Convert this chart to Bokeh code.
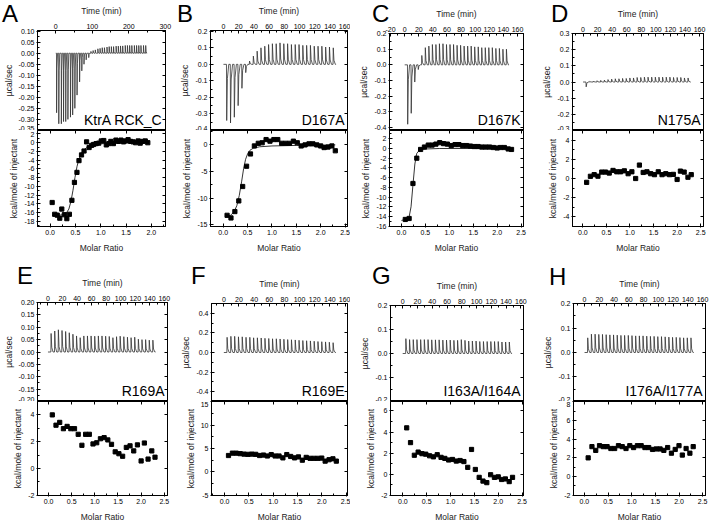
from bokeh.plotting import figure
from bokeh.layouts import row, column
from bokeh.models import (LinearAxis, Range1d, SingleIntervalTicker, FixedTicker,
                          NumeralTickFormatter, Label, Div)
from bokeh.embed import file_html
from bokeh.resources import INLINE

FONT = "Liberation Sans"

# ------------------------------------------------------------------ data
letters = ["A", "B", "C", "D", "E", "F", "G", "H"]
names = ["KtrA RCK_C", "D167A", "D167K", "N175A", "R169A", "R169E", "I163A/I164A", "I176A/I177A"]

# panel A (40 injections)
A_time = [2, 8, 15, 21, 27, 33, 40, 46, 52, 58, 65, 71, 77, 83, 90, 96, 102, 108, 115, 121,
          127, 133, 140, 146, 152, 158, 165, 171, 177, 183, 190, 196, 202, 208, 215, 221, 227, 233, 240, 246]
A_peak = [-0.27, -0.32, -0.32, -0.31, -0.31, -0.30, -0.29, -0.28, -0.25, -0.19,
          -0.13, -0.08, -0.05, -0.03, -0.02, 0.008, 0.012, 0.015, 0.02, 0.022,
          0.025, 0.025, 0.028, 0.03, 0.03, 0.03, 0.032, 0.032, 0.033, 0.033,
          0.035, 0.035, 0.035, 0.035, 0.035, 0.035, 0.035, 0.035, 0.035, 0.035]
A_ratio = [0.04, 0.09, 0.14, 0.19, 0.23, 0.28, 0.33, 0.38, 0.43, 0.48,
           0.53, 0.57, 0.62, 0.67, 0.72, 0.77, 0.82, 0.86, 0.91, 0.96,
           1.01, 1.06, 1.11, 1.16, 1.20, 1.25, 1.30, 1.35, 1.40, 1.45,
           1.49, 1.54, 1.59, 1.64, 1.69, 1.74, 1.78, 1.83, 1.88, 1.93]
A_heat = [-13.7, -16.4, -16.6, -17.3, -15.2, -16.5, -17.4, -16.4, -13.2, -9.1,
          -6.8, -4.1, -2.8, -1.9, 0.2, -1.1, -0.6, -0.4, -0.2, -0.1,
          0.4, 0.5, -0.5, -0.2, 0.3, -0.2, 0.6, 0.3, 0.6, 0.2,
          0.4, 0.7, 0.3, 0.2, 0.0, 0.4, -0.1, 0.3, 0.4, 0.0]
A_fit_r = [0.04, 0.15, 0.25, 0.32, 0.37, 0.41, 0.45, 0.49, 0.53, 0.57, 0.62, 0.68, 0.75, 0.85, 1.0, 1.2, 1.5, 1.93]
A_fit_h = [-16.7, -16.65, -16.5, -16.1, -15.2, -13.5, -11.0, -8.0, -5.5, -3.7, -2.4, -1.5, -0.9, -0.5, -0.25, -0.1, 0.0, 0.0]

# panels B-H (29 injections each)
t29 = [4, 9, 14, 19, 24, 29, 34, 39, 44, 49, 54, 59, 64, 69, 74, 79, 84, 89, 94, 99,
       104, 109, 114, 119, 124, 129, 134, 139, 144]
r29 = [0.08, 0.16, 0.24, 0.32, 0.40, 0.48, 0.56, 0.64, 0.72, 0.80, 0.88, 0.96, 1.04, 1.12, 1.20,
       1.28, 1.36, 1.44, 1.52, 1.60, 1.68, 1.76, 1.84, 1.92, 2.00, 2.07, 2.15, 2.23, 2.30]

B_peak = [-0.34, -0.355, -0.32, -0.25, -0.145, -0.05, 0.02, 0.05, 0.08, 0.10, 0.11, 0.12, 0.125, 0.125, 0.13,
          0.125, 0.125, 0.12, 0.12, 0.12, 0.115, 0.115, 0.115, 0.11, 0.11, 0.11, 0.105, 0.105, 0.10]
B_heat = [-13.2, -13.7, -12.5, -10.5, -7.8, -4.0, -1.7, -0.2, 0.3, 0.4, 1.0, 0.7, 1.0, 1.0, 0.3,
          0.3, 0.3, 0.7, 0.4, -0.2, 0.0, 0.2, 0.2, 0.0, -0.2, -0.5, -0.4, -0.2, -1.1]
B_fit_r = [0.05, 0.15, 0.22, 0.28, 0.33, 0.38, 0.42, 0.46, 0.50, 0.55, 0.62, 0.75, 1.0, 1.5, 2.0, 2.3]
B_fit_h = [-13.4, -13.2, -12.6, -11.4, -9.5, -6.8, -4.4, -2.7, -1.7, -1.0, -0.6, -0.35, -0.2, -0.1, -0.05, 0.0]

C_peak = [-0.38, -0.31, -0.11, -0.03, 0.06, 0.11, 0.12, 0.13, 0.13, 0.135, 0.135, 0.13, 0.13, 0.13, 0.125,
          0.125, 0.12, 0.12, 0.12, 0.115, 0.115, 0.11, 0.11, 0.11, 0.11, 0.105, 0.105, 0.10, 0.10]
C_heat = [-14.6, -14.4, -7.2, -2.0, -0.2, 0.3, 0.7, 0.7, 0.9, 1.2, 1.0, 0.9, 0.6, 0.8, 0.8,
          0.6, 0.6, 0.5, 0.4, 0.4, 0.3, 0.3, 0.3, 0.2, 0.1, 0.2, 0.2, -0.1, -0.2]
C_fit_r = [0.0, 0.08, 0.16, 0.20, 0.24, 0.28, 0.32, 0.38, 0.5, 0.8, 1.5, 2.3]
C_fit_h = [-14.8, -14.6, -14.1, -12.0, -7.5, -3.2, -1.0, -0.3, -0.1, 0.0, 0.0, 0.0]

D_peak = [-0.03, 0.004, 0.006, 0.008, 0.01, 0.012, 0.015, 0.018, 0.02, 0.02, 0.022, 0.022, 0.025, 0.025, 0.028,
          0.028, 0.03, 0.03, 0.03, 0.03, 0.03, 0.03, 0.03, 0.03, 0.028, 0.028, 0.028, 0.025, 0.025]
D_heat = [-0.4, 0.23, 0.4, 0.24, 0.67, 0.67, 0.57, 0.84, 0.7, 0.7, 0.8, 0.5, 0.7, 0.0, 1.4,
          0.63, 0.7, 0.5, 0.4, 0.7, 0.4, 0.5, 0.4, 0.43, -0.1, 0.77, 0.67, 0.13, 0.4]

E_peak = [0.075, 0.085, 0.09, 0.087, 0.083, 0.078, 0.072, 0.065, 0.058, 0.065, 0.065, 0.065, 0.064, 0.065, 0.065,
          0.064, 0.063, 0.058, 0.062, 0.064, 0.062, 0.06, 0.058, 0.06, 0.052, 0.05, 0.05, 0.048, 0.048]
E_heat = [4.0, 3.23, 3.44, 2.97, 3.14, 2.97, 2.97, 2.55, 1.73, 2.55, 2.55, 1.83, 1.92, 2.22, 2.3,
          2.13, 1.8, 1.24, 1.1, 0.91, 1.57, 1.69, 1.31, 1.76, 0.56, 1.9, 0.7, 1.31, 0.84]

F_peak = [0.155, 0.165, 0.165, 0.16, 0.16, 0.155, 0.155, 0.15, 0.15, 0.148, 0.145, 0.143, 0.14, 0.14, 0.138,
          0.135, 0.132, 0.13, 0.128, 0.125, 0.122, 0.12, 0.118, 0.115, 0.112, 0.11, 0.108, 0.105, 0.10]
F_heat = [3.5, 4.0, 4.0, 3.9, 3.8, 3.75, 3.8, 3.75, 3.5, 3.6, 3.4, 3.7, 3.4, 3.4, 3.0,
          3.7, 3.3, 3.0, 3.2, 2.5, 3.1, 2.9, 2.9, 2.9, 2.95, 2.3, 2.6, 2.8, 2.3]

G_peak = [0.062, 0.058, 0.058, 0.058, 0.058, 0.058, 0.058, 0.057, 0.057, 0.057, 0.056, 0.056, 0.056, 0.055, 0.055,
          0.058, 0.055, 0.052, 0.052, 0.052, 0.05, 0.05, 0.05, 0.05, 0.05, 0.05, 0.048, 0.048, 0.048]
G_heat = [4.4, 3.0, 1.8, 2.1, 1.95, 1.9, 1.75, 1.65, 1.85, 1.6, 1.5, 1.35, 1.4, 1.25, 1.3,
          1.2, 0.65, 2.35, 0.45, -0.3, -0.65, -0.8, -0.05, -0.3, -0.25, -0.5, -0.45, -0.7, -0.3]

H_peak = [0.06, 0.075, 0.075, 0.074, 0.074, 0.073, 0.072, 0.072, 0.071, 0.07, 0.07, 0.07, 0.069, 0.068, 0.068,
          0.068, 0.067, 0.066, 0.066, 0.065, 0.065, 0.064, 0.063, 0.062, 0.062, 0.061, 0.06, 0.06, 0.06]
H_heat = [2.0, 3.2, 2.8, 3.3, 3.2, 3.2, 3.0, 3.0, 3.3, 3.2, 3.0, 3.3, 3.1, 3.3, 3.3,
          3.1, 3.1, 2.9, 2.95, 2.95, 2.8, 3.1, 2.5, 2.9, 3.3, 2.3, 3.0, 2.5, 3.2]

data = [
    (A_time, A_peak, A_ratio, A_heat, A_fit_r, A_fit_h),
    (t29, B_peak, r29, B_heat, B_fit_r, B_fit_h),
    (t29, C_peak, r29, C_heat, C_fit_r, C_fit_h),
    (t29, D_peak, r29, D_heat, None, None),
    (t29, E_peak, r29, E_heat, None, None),
    (t29, F_peak, r29, F_heat, None, None),
    (t29, G_peak, r29, G_heat, None, None),
    (t29, H_peak, r29, H_heat, None, None),
]

# ------------------------------------------------------------------ layout / style
# time range, time tick, raw y range, raw tick, raw fmt, ratio range, heat range, heat tick
axes_cfg = [
    ((-50, 300.5), 100, (-0.3505, 0.103), 0.05, "0.00", (-0.25, 2.28), (-19.2, 2.8), 2),
    ((-17, 163), 20, (-0.4005, 0.205), 0.1, "0.0", (-0.26, 2.55), (-15.3, 2.7), 5),
    ((-21.5, 168.5), 20, (-0.42, 0.2005), 0.1, "0.0", (-0.25, 2.55), (-16.05, 3.7), 2),
    ((-14.5, 165.5), 20, (-0.3005, 0.3005), 0.1, "0.0", (-0.22, 2.56), (-5, 5), 2),
    ((-14.4, 164.4), 20, (-0.2005, 0.2005), 0.05, "0.00", (-0.24, 2.57), (-2.02, 5), 2),
    ((-16.3, 163.3), 20, (-0.5, 0.5), 0.2, "0.0", (-0.27, 2.53), (-5.05, 15.05), 5),
    ((-16.5, 163.5), 20, (-0.2005, 0.2005), 0.1, "0.0", (-0.26, 2.53), (-2.02, 6.9), 2),
    ((-15, 164), 20, (-0.2005, 0.2005), 0.1, "0.0", (-0.23, 2.56), (-2.02, 8.02), 2),
]
col_w = [172, 178, 180, 181]
row_h = [(130, 125), (146, 123)]
bot_border = [25, 23]
# min_border_left, min_border_right, min_border_top (raw plot), letter x, letter y (within panel)
geo = [
    (30, 7, 30, 2, 0), (38, 3, 30, 5, 0), (39, 7, 33, 22, 0), (42, 8, 33, 21, 0),
    (30, 5, 47, 17, 7), (39, 3, 48, 19, 7), (40, 7, 50, 22, 7), (43, 6, 48, 19, 8),
]
letter_h = [30, 40]

TXT = "#222222"


def multiples(lo, hi, step):
    out = []
    k = int(lo // step)
    while k * step <= hi + 1e-9:
        v = round(k * step, 6)
        if lo - 1e-9 <= v <= hi + 1e-9:
            out.append(v)
        k += 1
    return out


def style_axis(ax, vertical=False, out=0):
    ax.axis_line_color = "black"
    ax.major_tick_line_color = "black"
    ax.minor_tick_line_color = "black"
    ax.major_tick_in = 3
    ax.major_tick_out = out
    ax.minor_tick_in = 2
    ax.minor_tick_out = 0
    ax.major_label_standoff = 2
    ax.axis_label_standoff = 2 if vertical else 5
    ax.major_label_text_font = FONT
    ax.major_label_text_font_size = "7px"
    ax.major_label_text_color = "black"
    ax.axis_label_text_font = FONT
    ax.axis_label_text_font_size = "8.5px"
    ax.axis_label_text_font_style = "normal"
    ax.axis_label_text_color = TXT


def tick_only_axis(positions):
    ax = LinearAxis(ticker=FixedTicker(ticks=[], minor_ticks=positions))
    ax.axis_line_color = "black"
    ax.minor_tick_line_color = "black"
    ax.minor_tick_in = 3
    ax.minor_tick_out = 0
    ax.major_tick_in = 0
    ax.major_tick_out = 0
    ax.major_label_standoff = 0
    ax.axis_label_standoff = 0
    return ax


def trace(times, peaks):
    xs, ys = [0.0], [0.0]
    for t, pk in zip(times, peaks):
        xs += [t, t + 0.3, t + 1.2, t + 3.0]
        ys += [0.0, pk, 0.25 * pk, 0.0]
    xs.append(times[-1] + 4)
    ys.append(0.0)
    return xs, ys


def make_panel(i):
    times, peaks, ratio, heat, fr, fh = data[i]
    trng, tint, yraw, yint, yfmt, rrng, hrng, hint = axes_cfg[i]
    mbl, mbr, mbt, lx, ly = geo[i]
    w = col_w[i % 4]
    h_top, h_bot = row_h[i // 4]

    top = figure(width=w, height=h_top, x_range=Range1d(*trng), y_range=Range1d(*yraw),
                 output_backend="svg", toolbar_location=None,
                 x_axis_location=None, y_axis_location=None,
                 min_border_left=mbl, min_border_right=mbr, min_border_top=mbt, min_border_bottom=0)
    bot = figure(width=w, height=h_bot, x_range=Range1d(*rrng), y_range=Range1d(*hrng),
                 output_backend="svg", toolbar_location=None,
                 x_axis_location=None, y_axis_location=None,
                 min_border_left=mbl, min_border_right=mbr, min_border_top=0,
                 min_border_bottom=bot_border[i // 4])
    for p in (top, bot):
        p.grid.visible = False
        p.outline_line_color = "black"
        p.outline_line_width = 1
        p.background_fill_color = "white"
        p.border_fill_color = None

    # raw trace axes
    ax = LinearAxis(axis_label="Time (min)", ticker=SingleIntervalTicker(interval=tint, num_minor_ticks=2),
                    formatter=NumeralTickFormatter(format="0"))
    style_axis(ax)
    top.add_layout(ax, "above")
    ax = LinearAxis(axis_label="µcal/sec", ticker=SingleIntervalTicker(interval=yint, num_minor_ticks=2),
                    formatter=NumeralTickFormatter(format=yfmt))
    style_axis(ax, vertical=True, out=1)
    top.add_layout(ax, "left")
    top.add_layout(tick_only_axis(multiples(yraw[0], yraw[1], yint)), "right")

    # integrated heat axes
    ax = LinearAxis(axis_label="Molar Ratio", ticker=SingleIntervalTicker(interval=0.5, num_minor_ticks=2),
                    formatter=NumeralTickFormatter(format="0.0"))
    style_axis(ax, out=1)
    bot.add_layout(ax, "below")
    ax = LinearAxis(axis_label="kcal/mole of injectant",
                    ticker=SingleIntervalTicker(interval=hint, num_minor_ticks=2),
                    formatter=NumeralTickFormatter(format="0"))
    style_axis(ax, vertical=True, out=1)
    bot.add_layout(ax, "left")
    bot.add_layout(tick_only_axis(multiples(rrng[0], rrng[1], 0.5)), "above")
    bot.add_layout(tick_only_axis(multiples(hrng[0], hrng[1], hint)), "right")

    xs, ys = trace(times, peaks)
    top.line(xs, ys, line_color="#333333", line_width=0.8)

    top.add_layout(Label(x=trng[1], y=yraw[0], x_offset=-3, y_offset=3, text=names[i],
                         text_align="right", text_baseline="bottom", text_font=FONT,
                         text_font_size="14px", text_color="black"))

    if fr is not None:
        bot.line(fr, fh, line_color="black", line_width=0.8)
    bot.scatter(ratio, heat, marker="square", size=4.2, color="black")

    lh = letter_h[i // 4]
    letter = Div(text=(f'<div style="position:relative;left:{lx}px;top:{ly}px;'
                       f"font-family:'Liberation Sans',Arial,sans-serif;font-size:24px;"
                       f'line-height:27px;color:#000;">{letters[i]}</div>'),
                 width=w, height=lh, margin=(0, 0, -lh, 0), styles={"z-index": "10"})
    return column(letter, top, bot, spacing=0)


panels = [make_panel(i) for i in range(8)]
layout = column(row(*panels[:4], spacing=0), row(*panels[4:], spacing=0), spacing=0)

open("out.html", "w").write(file_html(layout, INLINE))
